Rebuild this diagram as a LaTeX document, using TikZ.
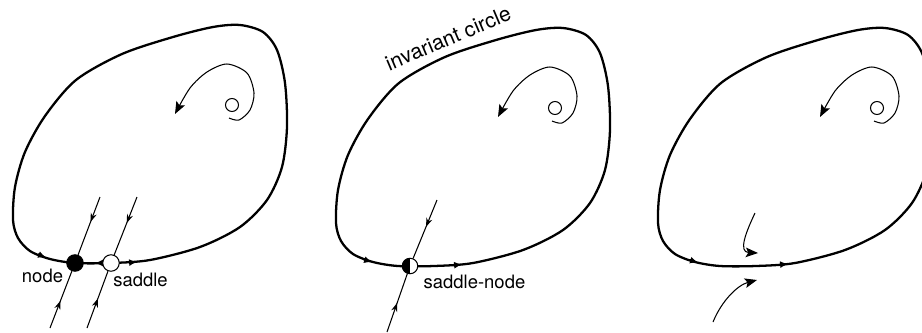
\documentclass[tikz,border=0pt]{standalone}
\usepackage{fontspec}
\setmainfont{TeX Gyre Heros}
\usetikzlibrary{arrows.meta,decorations.markings}

\begin{document}
\begin{tikzpicture}[
  x=0.02cm, y=-0.02cm,
  orbit/.style={line width=1.3pt},
  manifold/.style={line width=0.6pt},
  trajectory/.style={line width=0.6pt,
                     -{Stealth[length=7pt, width=5.5pt, inset=1.5pt]}},
  flowtip/.style={line width=1.3pt, -{Latex[length=4.5pt, width=4pt]}},
  midarrow/.style={postaction={decorate}, decoration={markings,
      mark=at position #1 with {\arrow{Stealth[length=5pt, width=3.5pt]}}}},
  fixedpt/.style={circle, draw, line width=0.6pt, inner sep=0pt,
                  minimum size=0.33cm},
  focuspt/.style={circle, draw, line width=0.6pt, inner sep=0pt,
                  minimum size=0.26cm},
  lbl/.style={font=\fontsize{10.5}{12}\selectfont, anchor=base, inner sep=0pt}
]
\useasboundingbox (0,0) rectangle (922,332);

%─── Closed orbit and unstable focus, the same in all three panels ─────────
\foreach \dx/\dy [count=\i] in {0/0, 323/3, 645/3} {
  \begin{scope}[shift={(\dx,\dy)}]
    \draw[orbit] plot[smooth cycle] coordinates {
      (50,259) (75,263) (111,263) (150,260) (200,247) (240,227) (267,200)
      (282,167) (287,127) (285,83) (277,50) (263,32) (240,25) (213,27)
      (173,37) (122,54) (76,80) (45,116) (25,152) (15,187) (13,220)
      (18,238) (30,251)};
    \node[focuspt] (focus\i) at (232,105) {};
    \draw[trajectory] plot[smooth] coordinates {
      (229,118) (239,120) (250,110) (254,93) (247,73) (227,64)
      (207,72) (190,88) (175,114)};
  \end{scope}
}

%─── Panel 1: node and saddle ──────────────────────────────────────────────
\draw[flowtip] (38,254.3) -- (46,257.5);
\draw[flowtip] (103,263) -- (95,263);
\draw[flowtip] (129,262.6) -- (137,261.9);

\node[fixedpt, fill=black] (stablept) at (75,263) {};
\node[fixedpt, fill=white] (saddlept) at (111,263) {};

\coordinate (n top) at (100,197);
\coordinate (n bot) at (50,328);
\coordinate (s top) at (137,197);
\coordinate (s bot) at (87,328);
\draw[manifold, midarrow=0.43] (n top) -- (stablept);
\draw[manifold, midarrow=0.48] (n bot) -- (stablept);
\draw[manifold, midarrow=0.45] (s top) -- (saddlept);
\draw[manifold, midarrow=0.52] (s bot) -- (saddlept);

\node[lbl] (stable label) at (42.5,282) {node};
\node[lbl] (saddle label) at (140.5,286) {saddle};

%─── Panel 2: saddle-node on the invariant circle ──────────────────────────
\begin{scope}[shift={(323,3)}]
  \draw[flowtip] (41,256.6) -- (49,259.2);
  \draw[flowtip] (131,262.2) -- (139,261.5);

  \node[fixedpt, fill=white, minimum size=0.31cm,
        path picture={\fill[black] (path picture bounding box.north)
          rectangle (path picture bounding box.south west);}]
    (sadnode) at (87,263) {};

  \coordinate (sn top) at (114,197);
  \coordinate (sn bot) at (64,329);
  \draw[manifold, midarrow=0.46] (sn top) -- (sadnode);
  \draw[manifold, midarrow=0.5] (sn bot) -- (sadnode);

  \node[lbl] (sadnode label) at (151.5,285) {saddle-node};

  % label along the orbit
  \node[lbl, font=\fontsize{12}{14}\selectfont, rotate=23]
    (circle label) at (128,42) {invariant circle};
\end{scope}

%─── Panel 3: after the bifurcation ────────────────────────────────────────
\begin{scope}[shift={(645,3)}]
  \draw[flowtip] (45,257) -- (53,259.5);
  \draw[flowtip] (135,261.6) -- (143,261);

  \draw[trajectory] (110,210) .. controls (101,229) and (93,249) .. (113,250);
  \draw[trajectory] (68,319) .. controls (77,297) and (93,282) .. (112,277);
\end{scope}

\end{tikzpicture}
\end{document}
